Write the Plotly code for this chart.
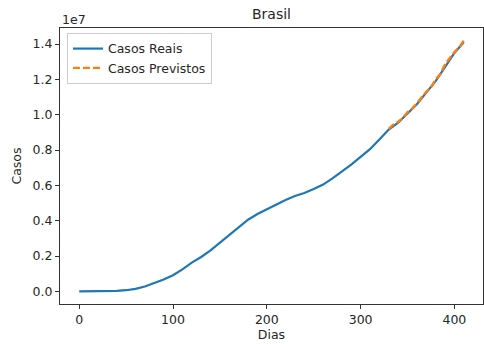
import plotly.graph_objects as go

# Casos reais (Brasil) - dias e casos acumulados
dias_reais = [0, 10, 20, 30, 40, 50, 60, 70, 80, 90, 100, 110, 120, 130, 140, 150,
              160, 170, 180, 190, 200, 210, 220, 230, 240, 250, 260, 270, 280, 290,
              300, 310, 320, 330, 340, 350, 360, 370, 380, 390, 400, 410]
casos_reais = [0, 0, 5000, 10000, 30000, 70000, 150000, 280000, 470000, 680000,
               920000, 1250000, 1630000, 1950000, 2320000, 2750000, 3210000, 3660000,
               4060000, 4380000, 4660000, 4920000, 5180000, 5400000, 5570000, 5800000,
               6050000, 6400000, 6780000, 7180000, 7620000, 8050000, 8600000, 9160000,
               9550000, 10100000, 10600000, 11250000, 11900000, 12700000, 13500000,
               14100000]

# Casos previstos
dias_prev = [330, 335, 340, 345, 350, 355, 360, 365, 370, 375, 380, 385, 390, 395,
             400, 405, 410]
casos_prev = [9200000, 9450000, 9600000, 9800000, 10150000, 10350000, 10650000,
              11000000, 11300000, 11550000, 12000000, 12300000, 12850000, 13200000,
              13550000, 13800000, 14200000]

y_ticks = [0, 2e6, 4e6, 6e6, 8e6, 1e7, 1.2e7, 1.4e7]
y_labels = ["0.0", "0.2", "0.4", "0.6", "0.8", "1.0", "1.2", "1.4"]
x_ticks = [0, 100, 200, 300, 400]

FONT = "DejaVu Sans"
TXT = "#262626"
FS = 12.5

fig = go.Figure()
fig.add_trace(go.Scatter(x=dias_reais, y=casos_reais, mode="lines", name="Casos Reais",
                         line=dict(color="#1f77b4", width=2.2)))
fig.add_trace(go.Scatter(x=dias_prev, y=casos_prev, mode="lines", name="Casos Previstos",
                         line=dict(color="#ff7f0e", width=2.4, dash="7px,3px")))

axis_common = dict(showline=True, linecolor="#333333", linewidth=1, mirror=True,
                   ticks="outside", ticklen=4, tickcolor="#333333", tickwidth=1,
                   showgrid=False, zeroline=False, automargin=False,
                   tickfont=dict(family=FONT, size=FS, color=TXT))

fig.update_layout(
    width=484, height=344,
    margin=dict(l=60, r=1, t=28, b=40, autoexpand=False),
    paper_bgcolor="white", plot_bgcolor="white",
    font=dict(family=FONT, color=TXT),
    title=dict(text="Brasil", x=(60 + 483) / 2 / 484, xanchor="center",
               y=1 - 14 / 344, yanchor="middle", automargin=False,
               font=dict(family=FONT, size=14, color=TXT)),
    xaxis=dict(range=[-20.5, 430.5], tickvals=x_ticks,
               title=dict(text="Dias", font=dict(family=FONT, size=FS, color=TXT), standoff=4),
               **axis_common),
    yaxis=dict(range=[-0.071e7, 1.491e7], tickvals=y_ticks, ticktext=y_labels,
               title=dict(text="Casos", font=dict(family=FONT, size=FS, color=TXT), standoff=8),
               **axis_common),
    legend=dict(x=0.0165, y=0.982, xanchor="left", yanchor="top",
                bgcolor="rgba(255,255,255,0.8)", bordercolor="#cccccc", borderwidth=1,
                font=dict(family=FONT, size=FS, color=TXT), tracegroupgap=0),
    showlegend=True,
    annotations=[dict(text="1e7", xref="paper", yref="paper", x=0, y=1,
                      xanchor="left", yanchor="bottom", showarrow=False, yshift=-1,
                      font=dict(family=FONT, size=FS, color=TXT))],
)

fig.write_html("out.html", config={"displayModeBar": False},
               post_script="document.body.style.margin='0';")
